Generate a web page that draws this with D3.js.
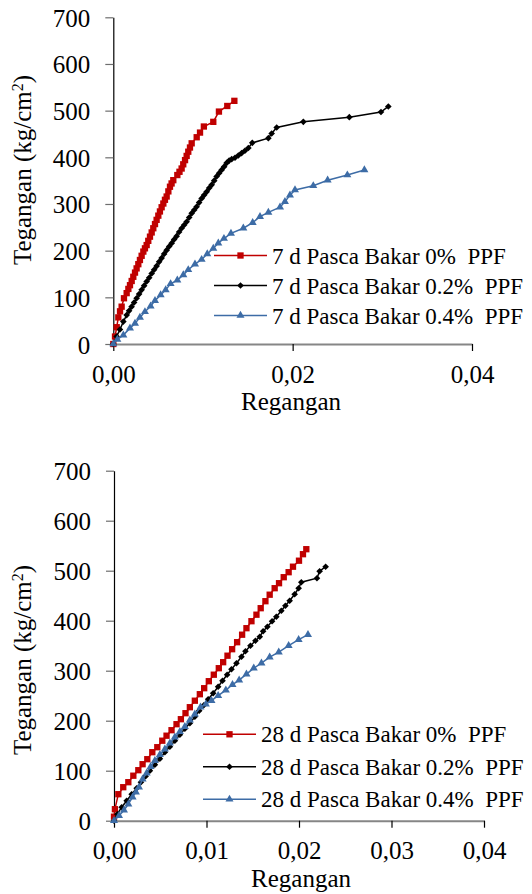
<!DOCTYPE html>
<html>
<head>
<meta charset="utf-8">
<script src="https://cdn.jsdelivr.net/npm/d3@7"></script>
<style>
body { margin: 0; background: #fff; }
svg { display: block; }
</style>
</head>
<body>
<svg id="chart" width="532" height="894"></svg>
<script>
// stress (kg/cm2) vs strain
const yTicks = [0, 100, 200, 300, 400, 500, 600, 700];
const xTicksTop = [0, 0.02, 0.04];
const xTicksBottom = [0, 0.01, 0.02, 0.03, 0.04];

const namesTop = ['7 d Pasca Bakar 0%\u00a0 PPF', '7 d Pasca Bakar 0.2%\u00a0 PPF', '7 d Pasca Bakar 0.4%\u00a0 PPF'];
const namesBottom = ['28 d Pasca Bakar 0%\u00a0 PPF', '28 d Pasca Bakar 0.2%\u00a0 PPF', '28 d Pasca Bakar 0.4%\u00a0 PPF'];

const d7_0 = [[0,0],[0.00019,16],[0.00038,36],[0.00056,57],[0.00075,70],[0.00093,80],[0.00119,98],[0.00149,109],
    [0.00168,118],[0.00186,126],[0.00205,135],[0.00223,144],[0.00242,153],[0.0026,162],[0.00279,171],[0.00297,180],
    [0.00316,189],[0.00335,198],[0.00353,205],[0.00372,212],[0.0039,221],[0.00409,230],[0.00428,239],[0.00446,248],
    [0.00465,257],[0.00483,266],[0.00502,275],[0.0052,284],[0.00539,293],[0.00558,301],[0.00576,309],[0.00595,316],
    [0.00614,327],[0.00632,337],[0.0065,344],[0.00669,351],[0.00714,362],[0.00738,369],[0.00762,376],[0.0078,385],
    [0.008,394],[0.00818,403],[0.00836,412],[0.00855,421],[0.00874,430],[0.0093,443],[0.00967,453],[0.0101,466],
    [0.01115,476],[0.01178,498],[0.01271,510],[0.0135,521]];
const d7_2 = [[0,0],[0.00037,16],[0.00074,31],[0.00112,48],[0.00149,62],[0.00176,71],[0.00204,80],[0.00232,89],
    [0.0026,98],[0.00288,107],[0.00316,116],[0.00344,125],[0.00372,134],[0.004,142],[0.00428,151],[0.00455,159],
    [0.00483,167],[0.00511,176],[0.00539,184],[0.00567,193],[0.00595,201],[0.00623,209],[0.00651,216],[0.00678,224],
    [0.00706,231],[0.00734,240],[0.00762,248],[0.0079,255],[0.00818,262],[0.00846,271],[0.00874,280],[0.00902,287],
    [0.00929,294],[0.00957,303],[0.00985,312],[0.01013,319],[0.01041,326],[0.01069,334],[0.01097,341],[0.01125,350],
    [0.01152,359],[0.0118,366],[0.01208,373],[0.01236,380],[0.01264,388],[0.01292,393],[0.0132,396],[0.01357,399],
    [0.01394,404],[0.01431,409],[0.01468,414],[0.01506,420],[0.0155,431],[0.01729,441],[0.01766,451],[0.01822,464],
    [0.02119,476],[0.02632,486],[0.02985,497],[0.03067,509]];
const d7_4 = [[0,0],[0.00045,10],[0.00112,19],[0.00186,34],[0.00242,44],[0.00297,57],[0.00353,69],[0.00416,81],
    [0.00465,93],[0.00528,105],[0.00584,116],[0.00639,129],[0.00714,137],[0.00781,148],[0.00836,159],[0.00911,171],
    [0.00985,181],[0.01048,193],[0.01115,205],[0.01171,216],[0.01234,226],[0.01312,237],[0.0145,248],[0.01554,260],
    [0.01636,273],[0.01729,282],[0.01859,293],[0.01914,305],[0.0197,319],[0.02026,330],[0.0223,339],[0.0239,351],
    [0.0261,362],[0.028,373]];

const d28_0 = [[0,8],[0.0001,23],[0.00047,53],[0.001,67],[0.00155,77],[0.00209,90],[0.00263,101],[0.00309,113],
    [0.0036,123],[0.00414,137],[0.00468,147],[0.00522,160],[0.00568,170],[0.00622,181],[0.00676,193],[0.00723,203],
    [0.00773,215],[0.0082,227],[0.00874,240],[0.00928,253],[0.00975,265],[0.01025,279],[0.01079,292],[0.01133,305],
    [0.0118,317],[0.01227,330],[0.01277,343],[0.01331,357],[0.01385,372],[0.01432,385],[0.01486,399],[0.0154,412],
    [0.01586,425],[0.01637,439],[0.01683,452],[0.01737,465],[0.01784,475],[0.01835,487],[0.01888,497],[0.01935,508],
    [0.02,520],[0.02043,533],[0.02079,543]];
const d28_2 = [[0,0],[0.00036,13],[0.00083,27],[0.00137,40],[0.00191,53],[0.00245,65],[0.00291,77],[0.00342,89],
    [0.00388,100],[0.00442,112],[0.00496,124],[0.0055,137],[0.00604,148],[0.00658,160],[0.00712,172],[0.00766,184],
    [0.0082,195],[0.00874,208],[0.00921,220],[0.00971,231],[0.01018,243],[0.01072,255],[0.01126,268],[0.01173,280],
    [0.01223,292],[0.0127,303],[0.01324,315],[0.01378,328],[0.01421,339],[0.01475,350],[0.01529,360],[0.01576,368],
    [0.01612,379],[0.01658,388],[0.01709,399],[0.01755,408],[0.01809,420],[0.01853,430],[0.01899,440],[0.01953,453],
    [0.01996,465],[0.02025,477],[0.02194,485],[0.02223,499],[0.02288,508]];
const d28_4 = [[0,0],[0.00054,10],[0.00108,21],[0.00155,33],[0.00201,47],[0.00237,57],[0.0027,67],[0.00309,83],
    [0.00353,95],[0.00396,108],[0.00442,120],[0.00496,132],[0.0055,143],[0.00604,155],[0.00658,167],[0.00712,178],
    [0.00766,188],[0.0082,201],[0.00874,213],[0.00935,227],[0.00993,233],[0.01054,240],[0.01126,250],[0.01209,261],
    [0.01281,272],[0.01353,281],[0.01432,293],[0.01511,305],[0.01594,315],[0.01683,327],[0.01781,337],[0.01888,350],
    [0.01996,362],[0.02097,372]];

const colors = ['#c00000', '#000000', '#3d6ca6'];
const markers = ['square', 'diamond', 'triangle'];
const FONT = '"Liberation Serif", "Times New Roman", serif';

const svg = d3.select('#chart');

function markerPath (type) {
    if (type === 'square') return d3.symbol(d3.symbolSquare, 40)();
    if (type === 'diamond') return d3.symbol(d3.symbolSquare, 22)();
    return d3.symbol(d3.symbolTriangle, 28)();
}

function drawChart (cfg) {
    const x = d3.scaleLinear().domain([0, 0.04]).range([cfg.left, cfg.right]);
    const y = d3.scaleLinear().domain([0, 700]).range([cfg.bottom, cfg.top]);
    const g = svg.append('g');

    // y axis
    const ya = g.append('g')
        .attr('transform', `translate(${cfg.left},0)`)
        .call(d3.axisLeft(y).tickValues(yTicks).tickSize(8).tickSizeOuter(0).tickPadding(15));
    ya.select('.domain').attr('stroke', '#000').attr('stroke-width', 1.2);
    ya.selectAll('.tick line').attr('stroke', '#6e6e6e').attr('stroke-width', 1.2);
    ya.selectAll('.tick text').style('font-size', '25px').attr('dy', '0.36em');

    // x axis
    const xa = g.append('g')
        .attr('transform', `translate(0,${cfg.bottom})`)
        .call(d3.axisBottom(x).tickValues(cfg.xTicks).tickSize(7).tickSizeOuter(0).tickPadding(14)
            .tickFormat(d => d3.format('.2f')(d).replace('.', ',')));
    xa.select('.domain').attr('stroke', '#868686').attr('stroke-width', 2);
    xa.selectAll('.tick line').attr('stroke', '#000').attr('stroke-width', 1.2);
    xa.selectAll('.tick text').style('font-size', '25px');

    // axis titles
    const yt = g.append('text')
        .attr('transform', `translate(31,${cfg.yTitleY}) rotate(-90)`)
        .attr('text-anchor', 'middle')
        .style('font-size', '25px')
        .text('Tegangan (kg/cm');
    yt.append('tspan').attr('baseline-shift', 'super').style('font-size', '16px').text('2');
    yt.append('tspan').text(')');

    g.append('text')
        .attr('x', cfg.xTitleX).attr('y', cfg.xTitleY)
        .attr('text-anchor', 'middle')
        .style('font-size', '25px')
        .text('Regangan');

    const line = d3.line().x(d => x(d[0])).y(d => y(d[1]));

    cfg.series.forEach((data, i) => {
        g.append('path')
            .attr('d', line(data))
            .attr('fill', 'none')
            .attr('stroke', colors[i])
            .attr('stroke-width', 1.5);
        g.selectAll(null)
            .data(data)
            .enter()
            .append('path')
            .attr('d', markerPath(markers[i]))
            .attr('transform', d => `translate(${x(d[0])},${y(d[1])})` + (markers[i] === 'diamond' ? ' rotate(45)' : ''))
            .attr('fill', colors[i]);
    });

    // legend
    const lg = g.append('g');
    cfg.names.forEach((name, i) => {
        const ly = cfg.legendY[i];
        lg.append('line')
            .attr('x1', cfg.legendX).attr('x2', cfg.legendX + 53)
            .attr('y1', ly).attr('y2', ly)
            .attr('stroke', colors[i]).attr('stroke-width', 1.5);
        lg.append('path')
            .attr('d', markerPath(markers[i]))
            .attr('transform', `translate(${cfg.legendX + 26.5},${ly})` + (markers[i] === 'diamond' ? ' rotate(45)' : ''))
            .attr('fill', colors[i]);
        lg.append('text')
            .attr('x', cfg.legendX + 58).attr('y', ly + 8)
            .style('font-size', '23px')
            .text(name);
    });
}

drawChart({
    left: 113.3, right: 472, top: 17.3, bottom: 344,
    xTicks: xTicksTop, series: [d7_0, d7_2, d7_4], names: namesTop,
    legendX: 214, legendY: [255.5, 285.5, 315.5],
    yTitleY: 170, xTitleX: 291, xTitleY: 410
});

drawChart({
    left: 114, right: 484, top: 470.7, bottom: 820.7,
    xTicks: xTicksBottom, series: [d28_0, d28_2, d28_4], names: namesBottom,
    legendX: 203, legendY: [734.3, 766.8, 799.3],
    yTitleY: 660, xTitleX: 301, xTitleY: 887
});

svg.selectAll('text').style('font-family', FONT).style('fill', '#000');
</script>
</body>
</html>
